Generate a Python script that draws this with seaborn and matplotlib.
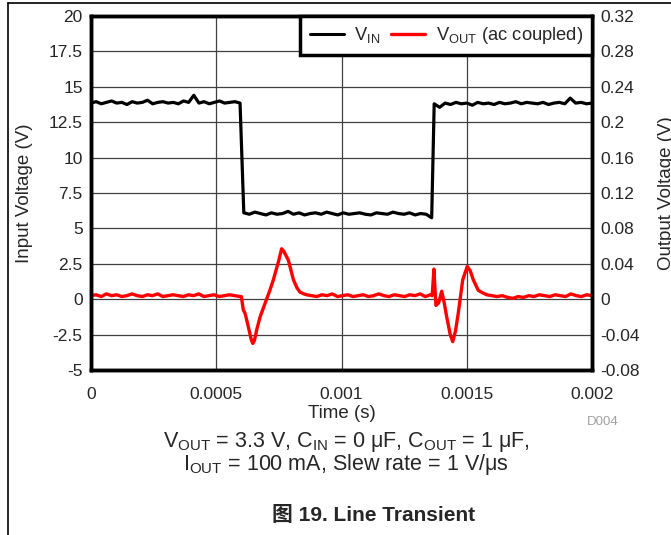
"""
Line transient plot: input step (left axis) and ac-coupled output (right axis).
"""
import numpy as np
import matplotlib
matplotlib.use("Agg")
import matplotlib.pyplot as plt
from matplotlib.lines import Line2D
import seaborn as sns

# ==============================================================================
# DATA (read off the scope capture)
# ==============================================================================
# input voltage, first high level (0 .. 0.000595 s)
vin_hi1 = [13.85, 13.95, 13.8, 13.9, 14.0, 13.85, 13.9, 13.75, 13.95, 13.85,
           13.9, 14.05, 13.8, 13.9, 13.95, 13.85, 13.9, 13.8, 14.0, 13.9,
           14.4, 13.85, 13.95, 13.8, 13.9, 14.0, 13.85, 13.9, 13.95, 13.85]
# low level (0.00061 .. 0.00136 s)
vin_lo = [6.1, 6.0, 6.15, 6.05, 5.95, 6.1, 6.0, 6.05, 6.2, 6.0,
          6.1, 5.95, 6.05, 6.1, 6.0, 6.15, 6.05, 5.95, 6.1, 6.0,
          6.05, 6.1, 6.0, 5.95, 6.1, 6.05, 6.0, 6.15, 6.05, 6.0,
          6.1, 5.95, 6.05, 6.0, 5.75]
# second high level (0.00137 .. 0.002 s)
vin_hi2 = [13.8, 13.55, 13.85, 13.75, 13.9, 13.8, 13.85, 13.7, 13.9, 13.8,
           13.85, 13.75, 13.9, 13.8, 13.85, 13.95, 13.8, 13.9, 13.85, 13.8,
           13.9, 13.75, 13.85, 13.9, 13.8, 14.2, 13.85, 13.9, 13.8, 13.85]

# output voltage baseline before the first step (0 .. 0.0006 s)
vout_base1 = [0.004, 0.005, 0.003, 0.006, 0.004, 0.005, 0.003, 0.004, 0.006, 0.004,
              0.003, 0.005, 0.004, 0.006, 0.003, 0.004, 0.005, 0.004, 0.003, 0.005,
              0.004, 0.006, 0.003, 0.004, 0.005, 0.003, 0.004, 0.005, 0.004, 0.003]
# response to the falling input step
ev1_t = [0.000600, 0.000608, 0.000615, 0.000622, 0.000632, 0.000640, 0.000646,
         0.000652, 0.000662, 0.000675, 0.000688, 0.000701, 0.000714, 0.000728,
         0.000748, 0.000761, 0.000770, 0.000788, 0.000808, 0.000822, 0.000834,
         0.000850]
ev1_v = [0.003, -0.012, -0.016, -0.024, -0.036, -0.046, -0.050,
         -0.047, -0.034, -0.020, -0.010, 0.000, 0.010, 0.022,
         0.042, 0.057, 0.054, 0.044, 0.022, 0.013, 0.008,
         0.006]
# baseline between the two responses (0.00086 .. 0.00136 s)
vout_base2 = [0.005, 0.004, 0.003, 0.005, 0.004, 0.006, 0.003, 0.004, 0.005, 0.003,
              0.004, 0.005, 0.003, 0.004, 0.006, 0.004, 0.003, 0.005, 0.004, 0.003,
              0.005, 0.004, 0.006, 0.003, 0.005]
# response to the rising input step
ev2_t = [0.001362, 0.001369, 0.001377, 0.001388, 0.001400, 0.001410, 0.001420,
         0.001434, 0.001444, 0.001455, 0.001466, 0.001484, 0.001502, 0.001514,
         0.001526, 0.001546, 0.001565, 0.001580]
ev2_v = [0.004, 0.034, -0.007, -0.004, 0.009, -0.004, -0.020,
         -0.040, -0.048, -0.036, -0.016, 0.022, 0.037, 0.032,
         0.022, 0.010, 0.007, 0.005]
# baseline after (0.0016 .. 0.002 s)
vout_base3 = [0.004, 0.003, 0.004, 0.002, 0.001, 0.003, 0.002, 0.004, 0.003, 0.005,
              0.004, 0.003, 0.005, 0.004, 0.003, 0.006, 0.004, 0.003, 0.005, 0.004]

VIN_TICKS  = [-5, -2.5, 0, 2.5, 5, 7.5, 10, 12.5, 15, 17.5, 20]
VOUT_TICKS = [-0.08, -0.04, 0, 0.04, 0.08, 0.12, 0.16, 0.2, 0.24, 0.28, 0.32]
T_TICKS    = [0, 0.0005, 0.001, 0.0015, 0.002]
T_LABELS   = ["0", "0.0005", "0.001", "0.0015", "0.002"]

# sample times of the flat segments
t_hi1  = np.linspace(0, 0.000595, len(vin_hi1))
t_lo   = np.linspace(0.00061, 0.00136, len(vin_lo))
t_hi2  = np.linspace(0.00137, 0.002, len(vin_hi2))
t_ob1  = np.linspace(0, 0.000594, len(vout_base1))
t_ob2  = np.linspace(0.00086, 0.001355, len(vout_base2))
t_ob3  = np.linspace(0.0016, 0.002, len(vout_base3))

t_vin = np.concatenate([t_hi1, t_lo, t_hi2])
v_vin = np.concatenate([vin_hi1, vin_lo, vin_hi2])
t_vout = np.concatenate([t_ob1, ev1_t, t_ob2, ev2_t, t_ob3])
v_vout = np.concatenate([vout_base1, ev1_v, vout_base2, ev2_v, vout_base3])

# ==============================================================================
# PLOT
# ==============================================================================
sns.set_style("white")
plt.rcParams["font.family"] = ["Liberation Sans", "Noto Sans CJK SC", "DejaVu Sans"]
plt.rcParams["mathtext.fontset"] = "custom"
plt.rcParams["mathtext.rm"] = "Liberation Sans"
plt.rcParams["mathtext.bf"] = "Liberation Sans:bold"

FS = 12.5       # tick labels
FL = 13.5       # axis labels
fig = plt.figure(figsize=(6.71, 5.35), dpi=100)
ax = fig.add_axes([91 / 671, 1 - 370 / 535, 501 / 671, 354 / 535])
ax2 = ax.twinx()

sns.lineplot(x=t_vin, y=v_vin, ax=ax, color="black", linewidth=2.3, estimator=None)
sns.lineplot(x=t_vout, y=v_vout, ax=ax2, color="#ff0000", linewidth=2.4, estimator=None)

ax.set_xlim(0, 0.002)
ax.set_ylim(-5, 20)
ax2.set_ylim(-0.08, 0.32)
ax.set_xticks(T_TICKS)
ax.set_xticklabels(T_LABELS, fontsize=FS)
ax.set_yticks(VIN_TICKS)
ax.set_yticklabels([f"{v:g}" for v in VIN_TICKS], fontsize=FS)
ax2.set_yticks(VOUT_TICKS)
ax2.set_yticklabels([f"{v:g}" for v in VOUT_TICKS], fontsize=FS)

ax.grid(True, color="#404040", linewidth=0.9)
ax.tick_params(axis="y", length=0, pad=6)
ax.tick_params(axis="x", length=0, pad=12.5)
ax2.tick_params(length=0, pad=6)
for a in (ax, ax2):
    for s in a.spines.values():
        s.set_linewidth(2.5)
        s.set_color("black")

ax.set_xlabel("Time (s)", fontsize=FL, labelpad=2)
ax.set_ylabel("Input Voltage (V)", fontsize=FL, labelpad=11)
ax2.set_ylabel("Output Voltage (V)", fontsize=FL, labelpad=13)

handles = [Line2D([], [], color="black", linewidth=2.2),
           Line2D([], [], color="#ff0000", linewidth=2.4)]
leg = ax2.legend(handles, [r"V$_{\mathregular{IN}}$", r"V$_{\mathregular{OUT}}$ (ac coupled)"],
                 loc="upper right", ncol=2, fontsize=13.2, frameon=True, fancybox=False,
                 borderaxespad=0, borderpad=0.5, handlelength=1.9, columnspacing=0.55,
                 handletextpad=0.55)
leg.get_frame().set_edgecolor("black")
leg.get_frame().set_linewidth(2.5)
leg.get_frame().set_alpha(1)

fig.text(603 / 671, 1 - 422 / 535, "D004", color="#a0a0a0", fontsize=9.5,
         ha="center", va="center")
fig.text(346 / 671, 1 - 447 / 535,
         r"V$_{\mathregular{OUT}}$ = 3.3 V, C$_{\mathregular{IN}}$ = 0 μF, C$_{\mathregular{OUT}}$ = 1 μF,",
         fontsize=15.5, ha="center", va="baseline")
fig.text(346 / 671, 1 - 470 / 535,
         r"I$_{\mathregular{OUT}}$ = 100 mA, Slew rate = 1 V/μs",
         fontsize=15.5, ha="center", va="baseline")
fig.text(374 / 671, 1 - 521 / 535, "图 19. Line Transient", fontsize=15,
         fontweight="bold", ha="center", va="baseline")

# page frame (top and left edges)
fig.add_artist(Line2D([8 / 671, 1], [1 - 3 / 535, 1 - 3 / 535], color="black",
                      linewidth=1.2, transform=fig.transFigure))
fig.add_artist(Line2D([8 / 671, 8 / 671], [0, 1 - 3 / 535], color="black",
                      linewidth=1.2, transform=fig.transFigure))

fig.savefig("out.png", dpi=100)
